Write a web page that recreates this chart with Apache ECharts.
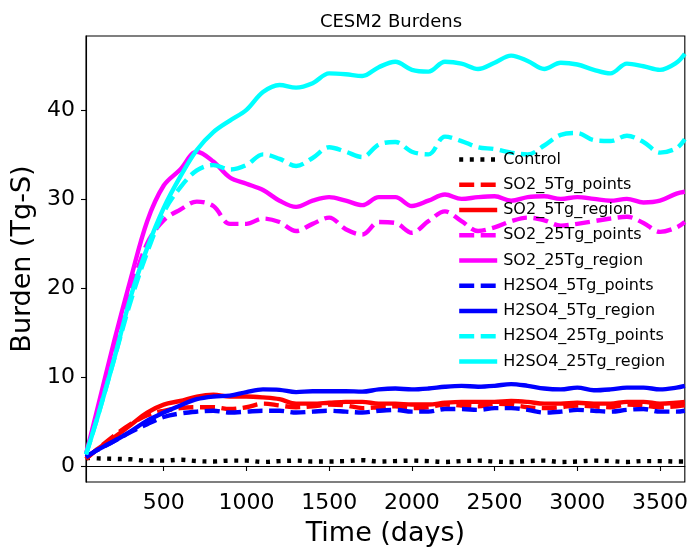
<!DOCTYPE html>
<html>
<head>
<meta charset="utf-8">
<script src="https://cdn.jsdelivr.net/npm/echarts@6/dist/echarts.min.js"></script>
<style>
  html, body { margin: 0; padding: 0; background: #fff; }
  #chart { width: 691px; height: 552px; }
</style>
</head>
<body>
<div id="chart"></div>
<script>
var days = [30, 100, 200, 300, 400, 500, 600, 700, 800, 900, 1000, 1100, 1200, 1300, 1400, 1500, 1600, 1700, 1800, 1900,
  2000, 2100, 2200, 2300, 2400, 2500, 2600, 2700, 2800, 2900, 3000, 3100, 3200, 3300, 3400, 3500, 3600, 3650];

var control = [0.9, 0.85, 0.8, 0.75, 0.6, 0.6, 0.7, 0.55, 0.5, 0.6, 0.6, 0.45, 0.55, 0.6, 0.5, 0.5, 0.55, 0.65, 0.5, 0.55,
  0.6, 0.55, 0.45, 0.55, 0.6, 0.5, 0.45, 0.55, 0.6, 0.45, 0.5, 0.6, 0.55, 0.45, 0.55, 0.55, 0.5, 0.5];
var so2_5_points = [0.8, 1.9, 3.4, 4.7, 5.7, 6.2, 6.5, 6.6, 6.6, 6.4, 6.6, 7.0, 6.8, 6.6, 6.7, 6.9, 6.8, 6.5, 6.6, 6.7,
  6.5, 6.6, 6.9, 6.8, 6.7, 7.0, 6.9, 6.6, 6.5, 6.6, 6.8, 6.7, 6.6, 6.9, 6.8, 6.6, 6.7, 6.8];
var so2_5_region = [0.8, 1.9, 3.2, 4.6, 6.0, 6.9, 7.3, 7.8, 8.0, 7.8, 7.8, 7.7, 7.5, 7.0, 7.0, 7.1, 7.2, 7.2, 7.0, 7.0,
  6.9, 6.9, 7.1, 7.2, 7.2, 7.2, 7.3, 7.2, 7.0, 7.0, 7.1, 7.0, 7.0, 7.2, 7.2, 7.0, 7.1, 7.2];
var so2_25_points = [1.3, 6.0, 13.0, 19.5, 25.0, 27.6, 28.8, 29.7, 29.2, 27.2, 27.2, 27.8, 27.4, 26.4, 27.2, 27.9, 26.6, 26.0, 27.4, 27.3,
  26.2, 27.5, 28.6, 27.5, 26.4, 26.8, 27.5, 27.9, 27.6, 27.0, 27.2, 27.5, 27.8, 28.0, 27.3, 26.3, 26.8, 27.4];
var so2_25_region = [1.3, 6.5, 14.0, 21.0, 27.5, 31.5, 33.3, 35.3, 34.2, 32.4, 31.7, 31.0, 29.8, 29.1, 29.8, 30.2, 29.8, 29.3, 30.2, 30.2,
  29.2, 29.8, 30.5, 30.0, 30.2, 30.3, 29.8, 30.2, 30.3, 30.0, 30.2, 30.0, 29.8, 30.0, 29.6, 29.8, 30.6, 30.8];
var h2so4_5_points = [1.0, 1.8, 2.8, 3.8, 4.7, 5.5, 5.9, 6.1, 6.2, 6.0, 6.1, 6.2, 6.2, 6.0, 6.1, 6.2, 6.1, 6.0, 6.2, 6.3,
  6.1, 6.1, 6.4, 6.4, 6.3, 6.5, 6.5, 6.3, 6.0, 6.1, 6.3, 6.2, 6.1, 6.3, 6.4, 6.1, 6.1, 6.2];
var h2so4_5_region = [1.0, 1.8, 2.8, 3.9, 5.1, 6.0, 6.8, 7.5, 7.8, 7.9, 8.3, 8.6, 8.55, 8.3, 8.4, 8.4, 8.4, 8.35, 8.6, 8.7,
  8.6, 8.7, 8.9, 9.0, 8.9, 9.0, 9.2, 9.0, 8.7, 8.6, 8.8, 8.5, 8.6, 8.8, 8.8, 8.6, 8.8, 9.0];
var h2so4_25_points = [1.3, 5.5, 12.0, 18.5, 24.0, 28.5, 31.3, 33.2, 33.8, 33.3, 33.8, 35.0, 34.5, 33.7, 34.6, 35.8, 35.3, 34.7, 36.1, 36.4,
  35.3, 35.0, 37.0, 36.5, 35.8, 35.6, 35.2, 35.0, 36.0, 37.2, 37.4, 36.6, 36.5, 37.1, 36.4, 35.2, 35.7, 36.7];
var h2so4_25_region = [1.3, 5.5, 12.0, 19.0, 24.5, 29.0, 32.5, 35.5, 37.5, 38.8, 40.0, 42.0, 42.8, 42.5, 43.0, 44.1, 44.0, 43.8, 44.8, 45.4,
  44.5, 44.3, 45.4, 45.2, 44.6, 45.3, 46.1, 45.5, 44.6, 45.3, 45.1, 44.5, 44.1, 45.2, 44.9, 44.5, 45.3, 46.3];

var xTicks = [500, 1000, 1500, 2000, 2500, 3000, 3500];
var yTicks = [0, 10, 20, 30, 40];

function pairs(vals) {
  var out = [];
  for (var i = 0; i < days.length; i++) {
    out.push([days[i], vals[i]]);
  }
  return out;
}

var dashed = [15, 6.5];
var dotted = [4, 6.6];

function mkSeries(name, vals, color, type) {
  return {
    name: name,
    type: 'line',
    data: pairs(vals),
    smooth: 0.35,
    symbol: 'none',
    lineStyle: { color: color, width: 4.4, type: type, cap: 'butt' },
    itemStyle: { color: color }
  };
}

var font = 'DejaVu Sans';
var chart = echarts.init(document.getElementById('chart'));
var option = {
  animation: false,
  backgroundColor: '#fff',
  title: {
    text: 'CESM2 Burdens',
    left: 386,
    textAlign: 'center',
    top: 8,
    textStyle: { fontFamily: font, fontWeight: 'normal', fontSize: 18, color: '#000' }
  },
  grid: {
    left: 86, right: 4, top: 36, bottom: 69,
    show: true, borderColor: '#000', borderWidth: 1.1
  },
  legend: {
    orient: 'vertical',
    left: 452,
    top: 146.5,
    itemWidth: 38,
    itemHeight: 16,
    itemGap: 9.25,
    itemStyle: { opacity: 0 },
    lineStyle: { width: 4.4 },
    textStyle: { fontFamily: font, fontSize: 16, color: '#000', lineHeight: 16, padding: [0, 0, 0, 1] },
    data: ['Control', 'SO2_5Tg_points', 'SO2_5Tg_region', 'SO2_25Tg_points', 'SO2_25Tg_region',
      'H2SO4_5Tg_points', 'H2SO4_5Tg_region', 'H2SO4_25Tg_points', 'H2SO4_25Tg_region']
  },
  xAxis: {
    type: 'value',
    min: 30,
    max: 3650,
    name: 'Time (days)',
    nameLocation: 'middle',
    nameGap: 38,
    nameTextStyle: { fontFamily: font, fontSize: 27, color: '#000' },
    axisLine: { lineStyle: { color: '#000', width: 1.1 } },
    axisTick: { length: 5, lineStyle: { color: '#000', width: 1.1 }, customValues: xTicks },
    axisLabel: {
      fontFamily: font, fontSize: 22, color: '#000', margin: 10, customValues: xTicks,
      formatter: function (v) { return String(v); }
    },
    splitLine: { show: false }
  },
  yAxis: {
    type: 'value',
    min: -1.8,
    max: 48.3,
    name: 'Burden (Tg-S)',
    nameLocation: 'middle',
    nameGap: 45,
    nameTextStyle: { fontFamily: font, fontSize: 27, color: '#000' },
    axisLine: { show: true, lineStyle: { color: '#000', width: 1.1 } },
    axisTick: { show: true, length: 5, lineStyle: { color: '#000', width: 1.1 }, customValues: yTicks },
    axisLabel: {
      fontFamily: font, fontSize: 22, color: '#000', margin: 11, customValues: yTicks,
      formatter: function (v) { return String(v); }
    },
    splitLine: { show: false }
  },
  series: [
    mkSeries('Control', control, '#000000', dotted),
    mkSeries('SO2_5Tg_points', so2_5_points, '#ff0000', dashed),
    mkSeries('SO2_5Tg_region', so2_5_region, '#ff0000', 'solid'),
    mkSeries('SO2_25Tg_points', so2_25_points, '#ff00ff', dashed),
    mkSeries('SO2_25Tg_region', so2_25_region, '#ff00ff', 'solid'),
    mkSeries('H2SO4_5Tg_points', h2so4_5_points, '#0000ff', dashed),
    mkSeries('H2SO4_5Tg_region', h2so4_5_region, '#0000ff', 'solid'),
    mkSeries('H2SO4_25Tg_points', h2so4_25_points, '#00ffff', dashed),
    mkSeries('H2SO4_25Tg_region', h2so4_25_region, '#00ffff', 'solid')
  ]
};
chart.setOption(option);
window.addEventListener('resize', chart.resize);
</script>
</body>
</html>
